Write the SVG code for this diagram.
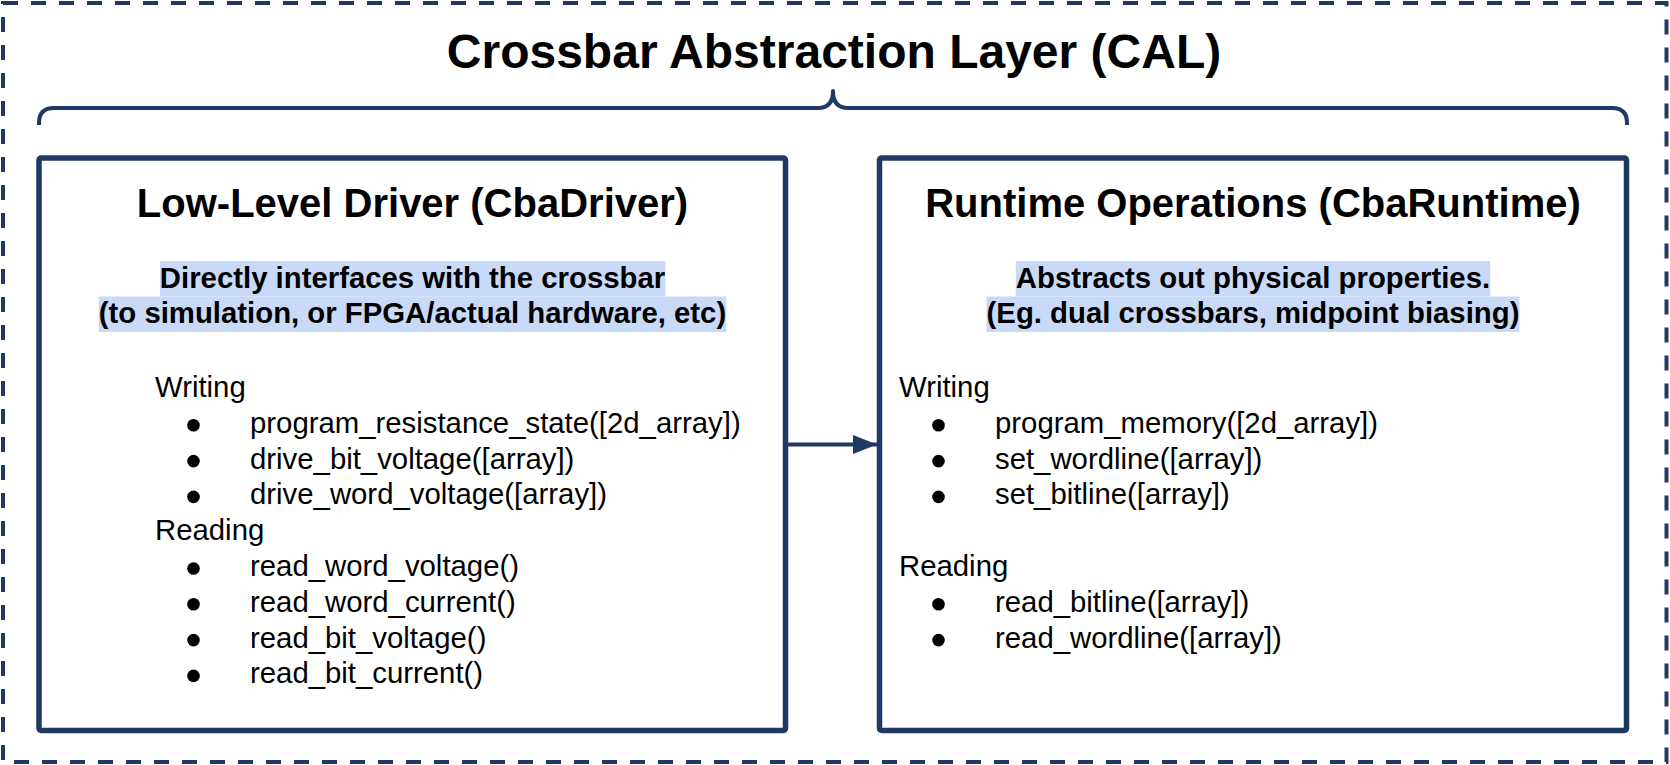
<svg xmlns="http://www.w3.org/2000/svg" width="1670" height="765" viewBox="0 0 1670 765">
<defs>
<style>
.frame{fill:none;stroke:#203864;stroke-width:4;stroke-dasharray:15 13}
.box{fill:#ffffff;stroke:#203864;stroke-width:5.5;stroke-linejoin:round}
.brace{fill:none;stroke:#203864;stroke-width:4;stroke-linecap:butt;stroke-linejoin:round}
.conn{fill:none;stroke:#203864;stroke-width:4}
.h1{font-family:"Liberation Sans",Arial,sans-serif;font-weight:bold;font-size:48px;fill:#000;text-anchor:middle}
.h2{font-family:"Liberation Sans",Arial,sans-serif;font-weight:bold;font-size:40px;fill:#000;text-anchor:middle}
.sub{font-family:"Liberation Sans",Arial,sans-serif;font-weight:bold;font-size:29.33px;fill:#000;text-anchor:middle}
.hl{fill:#c9daf8}
.txt{font-family:"Liberation Sans",Arial,sans-serif;font-size:29.33px;fill:#000}
.dot{fill:#000}
</style>
<marker id="arrow" markerWidth="24" markerHeight="19" refX="24" refY="9.5" orient="auto" markerUnits="userSpaceOnUse">
<path d="M0,0 L24,9.5 L0,19 Z" fill="#203864"/>
</marker>
</defs>
<rect width="1670" height="765" fill="#ffffff"/>
<g id="cal">
<rect class="frame" x="3" y="3" width="1663.5" height="759"/>
<text class="h1" x="834" y="68">Crossbar Abstraction Layer (CAL)</text>
<path class="brace" d="M39,125 L39,123 Q39,108 54,108 L818,108 Q833,108 833,91 Q833,108 848,108 L1612,108 Q1627,108 1627,123 L1627,125"/>
</g>
<g id="connectors">
<line class="conn" x1="785.5" y1="444.5" x2="877" y2="444.5" marker-end="url(#arrow)"/>
</g>
<g id="cbadriver">
<rect class="box" x="39" y="158" width="746.5" height="572.5" rx="2"/>
<text class="h2" x="412.5" y="217">Low-Level Driver (CbaDriver)</text>
<rect class="hl" x="160" y="261" width="505.3" height="35.5"/>
<rect class="hl" x="98.7" y="296.5" width="627.5" height="35.5"/>
<text class="sub" x="412.5" y="288">Directly interfaces with the crossbar</text>
<text class="sub" x="412.5" y="323">(to simulation, or FPGA/actual hardware, etc)</text>
<text class="txt" x="155" y="397">Writing</text>
<circle class="dot" cx="193.5" cy="425.3" r="6.3"/>
<text class="txt" x="250" y="432.8">program_resistance_state([2d_array])</text>
<circle class="dot" cx="193.5" cy="461.1" r="6.3"/>
<text class="txt" x="250" y="468.6">drive_bit_voltage([array])</text>
<circle class="dot" cx="193.5" cy="496.9" r="6.3"/>
<text class="txt" x="250" y="504.4">drive_word_voltage([array])</text>
<text class="txt" x="155" y="540.2">Reading</text>
<circle class="dot" cx="193.5" cy="568.5" r="6.3"/>
<text class="txt" x="250" y="576">read_word_voltage()</text>
<circle class="dot" cx="193.5" cy="604.3" r="6.3"/>
<text class="txt" x="250" y="611.8">read_word_current()</text>
<circle class="dot" cx="193.5" cy="640.1" r="6.3"/>
<text class="txt" x="250" y="647.6">read_bit_voltage()</text>
<circle class="dot" cx="193.5" cy="675.9" r="6.3"/>
<text class="txt" x="250" y="683.4">read_bit_current()</text>
</g>
<g id="cbaruntime">
<rect class="box" x="879.5" y="158" width="747" height="572.5" rx="2"/>
<text class="h2" x="1253" y="217">Runtime Operations (CbaRuntime)</text>
<rect class="hl" x="1015.8" y="261" width="474.4" height="35.5"/>
<rect class="hl" x="986.5" y="296.5" width="533" height="35.5"/>
<text class="sub" x="1253" y="288">Abstracts out physical properties.</text>
<text class="sub" x="1253" y="323">(Eg. dual crossbars, midpoint biasing)</text>
<text class="txt" x="899" y="397">Writing</text>
<circle class="dot" cx="938.5" cy="425.3" r="6.3"/>
<text class="txt" x="995" y="432.8">program_memory([2d_array])</text>
<circle class="dot" cx="938.5" cy="461.1" r="6.3"/>
<text class="txt" x="995" y="468.6">set_wordline([array])</text>
<circle class="dot" cx="938.5" cy="496.9" r="6.3"/>
<text class="txt" x="995" y="504.4">set_bitline([array])</text>
<text class="txt" x="899" y="576">Reading</text>
<circle class="dot" cx="938.5" cy="604.3" r="6.3"/>
<text class="txt" x="995" y="611.8">read_bitline([array])</text>
<circle class="dot" cx="938.5" cy="640.1" r="6.3"/>
<text class="txt" x="995" y="647.6">read_wordline([array])</text>
</g>
</svg>
